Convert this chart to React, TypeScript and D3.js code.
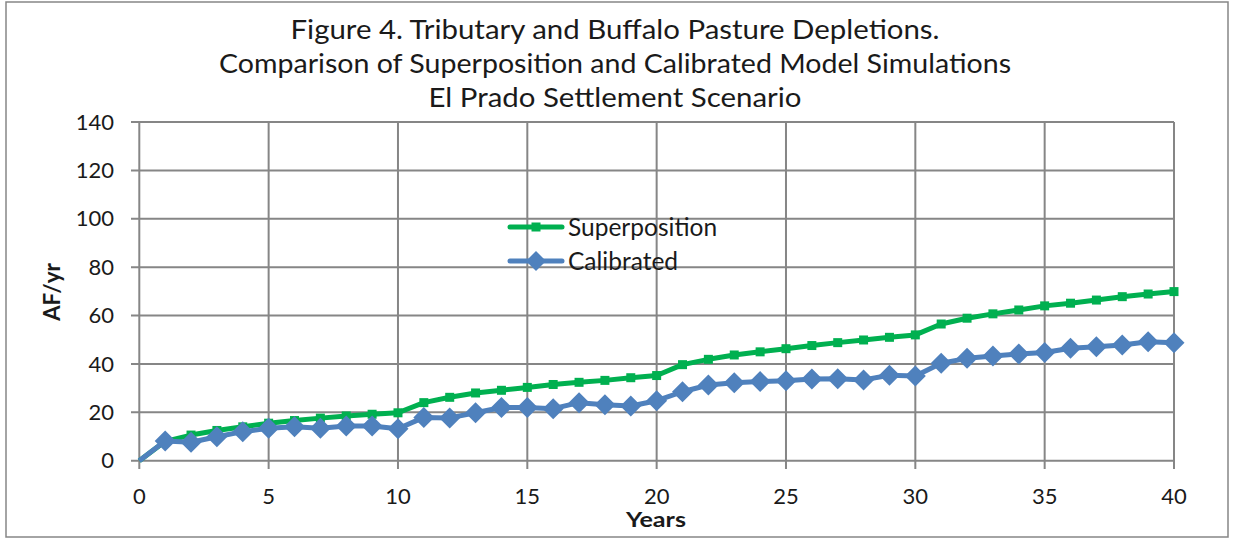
import React from "react";
import * as d3 from "d3";

const years = d3.range(0, 41);
const superposition = [0, 8, 10.6, 12.5, 14, 15.5, 16.6, 17.6, 18.5, 19.2, 19.8, 24, 26.2, 28, 29.1, 30.3, 31.5, 32.4, 33.2, 34.3, 35.2, 39.7, 41.9, 43.7, 45, 46.3, 47.6, 48.8, 49.9, 51, 52, 56.5, 58.9, 60.7, 62.3, 64, 65.1, 66.4, 67.8, 68.9, 69.9];
const calibrated = [0, 8.1, 7.6, 9.9, 12, 13.4, 14, 13.4, 14.3, 14.3, 13.2, 17.9, 17.7, 19.8, 22, 22, 21.5, 24, 23.1, 22.6, 24.8, 28.5, 31.3, 32.2, 32.7, 33, 33.8, 33.9, 33.4, 35.3, 35, 40.3, 42.3, 43.3, 44.1, 44.7, 46.5, 47.1, 47.8, 49.2, 48.8];
const xTicks = [0, 5, 10, 15, 20, 25, 30, 35, 40];
const yTicks = [0, 20, 40, 60, 80, 100, 120, 140];
const titleLines = [
  "Figure 4. Tributary and Buffalo Pasture Depletions.",
  "Comparison of Superposition and Calibrated Model Simulations",
  "El Prado Settlement Scenario",
];
const titleWidths = [649, 792, 373];
const seriesNames = ["Superposition", "Calibrated"];
const xAxisTitle = "Years";
const yAxisTitle = "AF/yr";

const W = 1234;
const H = 539;
const GREEN = "#00B050";
const BLUE = "#4F81BD";
const GRID = "#868686";
const FONT = "Lato, 'Open Sans', sans-serif";

export default function App() {
  const x = d3.scaleLinear().domain([0, 40]).range([139.3, 1174]);
  const y = d3.scaleLinear().domain([0, 140]).range([460.7, 122]);
  const line = d3
    .line<number>()
    .x((_, i) => x(years[i]))
    .y((d) => y(d));

  const diamond = (cx: number, cy: number, r: number) =>
    `M${cx},${cy - r}L${cx + r},${cy}L${cx},${cy + r}L${cx - r},${cy}Z`;

  return (
    <svg
      width={W}
      height={H}
      style={{ position: "absolute", left: 0, top: 0, background: "#fff" }}
    >
      <rect x={6} y={2} width={1222} height={535} fill="#fff" stroke={GRID} strokeWidth={1.5} />
      {/* titles */}
      {titleLines.map((t, i) => (
        <text
          key={i}
          x={615}
          y={38.5 + i * 34.2}
          textAnchor="middle"
          fontFamily={FONT}
          fontSize={27.5}
          textLength={titleWidths[i]}
          lengthAdjust="spacingAndGlyphs"
          fill="#1a1a1a"
        >
          {t}
        </text>
      ))}
      {/* grid */}
      {yTicks.map((t) => (
        <line key={"gy" + t} x1={131} x2={1174} y1={y(t)} y2={y(t)} stroke={GRID} strokeWidth={2} />
      ))}
      {xTicks.map((t) => (
        <line key={"gx" + t} x1={x(t)} x2={x(t)} y1={y(140)} y2={469} stroke={GRID} strokeWidth={2} />
      ))}
      {/* y labels */}
      {yTicks.map((t) => (
        <text
          key={"ly" + t}
          x={114}
          y={y(t) + 7.6}
          textAnchor="end"
          fontFamily={FONT}
          fontSize={22}
          fill="#1a1a1a"
        >
          {t}
        </text>
      ))}
      {xTicks.map((t) => (
        <text
          key={"lx" + t}
          x={x(t)}
          y={503.5}
          textAnchor="middle"
          fontFamily={FONT}
          fontSize={22}
          fill="#1a1a1a"
        >
          {t}
        </text>
      ))}
      <text
        x={656}
        y={527}
        textAnchor="middle"
        fontFamily={FONT}
        fontWeight="bold"
        fontSize={21.5}
        textLength={60}
        lengthAdjust="spacingAndGlyphs"
        fill="#1a1a1a"
      >
        {xAxisTitle}
      </text>
      <text
        transform="translate(60,292) rotate(-90)"
        textAnchor="middle"
        fontFamily={FONT}
        fontWeight="bold"
        fontSize={23}
        textLength={58}
        lengthAdjust="spacingAndGlyphs"
        fill="#1a1a1a"
      >
        {yAxisTitle}
      </text>
      {/* series */}
      <path d={line(superposition) || ""} fill="none" stroke={GREEN} strokeWidth={5} strokeLinejoin="round" />
      {superposition.map((v, i) =>
        i === 0 ? null : (
          <rect key={"s" + i} x={x(years[i]) - 4.5} y={y(v) - 4.5} width={9} height={9} fill={GREEN} />
        )
      )}
      <path d={line(calibrated) || ""} fill="none" stroke={BLUE} strokeWidth={5} strokeLinejoin="round" />
      {calibrated.map((v, i) =>
        i === 0 ? null : <path key={"c" + i} d={diamond(x(years[i]), y(v), 10.5)} fill={BLUE} />
      )}
      {/* legend */}
      <line x1={510} x2={562} y1={227} y2={227} stroke={GREEN} strokeWidth={5} strokeLinecap="round" />
      <rect x={536 - 4.5} y={227 - 4.5} width={9} height={9} fill={GREEN} />
      <text x={568} y={235.5} fontFamily={FONT} fontSize={24.5} fill="#1a1a1a">
        {seriesNames[0]}
      </text>
      <line x1={510} x2={562} y1={261} y2={261} stroke={BLUE} strokeWidth={5} strokeLinecap="round" />
      <path d={diamond(536, 261, 10)} fill={BLUE} />
      <text x={568} y={269.5} fontFamily={FONT} fontSize={24.5} fill="#1a1a1a">
        {seriesNames[1]}
      </text>
    </svg>
  );
}
